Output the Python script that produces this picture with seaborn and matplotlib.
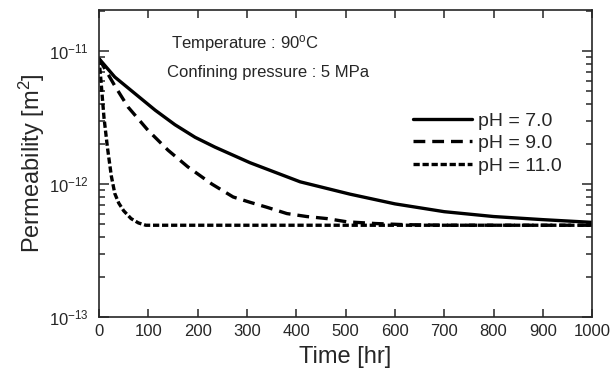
import matplotlib
matplotlib.use("Agg")
import matplotlib.pyplot as plt
import matplotlib.ticker as mticker
import pandas as pd
import seaborn as sns

## values (time in hr, permeability in m^2)
t_ph7 = [0, 32, 73, 114, 154, 195, 235, 306, 408, 509, 600, 700, 800, 900, 1000]
k_ph7 = [8.8e-12, 6.4e-12, 4.8e-12, 3.6e-12, 2.8e-12, 2.25e-12, 1.9e-12, 1.45e-12,
         1.04e-12, 8.4e-13, 7.1e-13, 6.2e-13, 5.7e-13, 5.4e-13, 5.15e-13]

t_ph9 = [0, 32, 59, 99, 140, 180, 229, 272, 306, 340, 381, 421, 462, 503, 560, 620,
         700, 800, 900, 1000]
k_ph9 = [8.8e-12, 5.5e-12, 3.8e-12, 2.55e-12, 1.8e-12, 1.35e-12, 1.0e-12, 8.0e-13,
         7.3e-13, 6.7e-13, 6.0e-13, 5.7e-13, 5.5e-13, 5.2e-13, 5.05e-13, 4.95e-13,
         4.9e-13, 4.9e-13, 4.9e-13, 4.9e-13]

t_ph11 = [0, 4, 10, 17, 25, 32, 40, 50, 65, 80, 95, 200, 400, 600, 800, 1000]
k_ph11 = [8.8e-12, 6.0e-12, 3.2e-12, 1.9e-12, 1.15e-12, 8.5e-13, 7.2e-13, 6.3e-13,
          5.5e-13, 5.1e-13, 4.9e-13, 4.9e-13, 4.9e-13, 4.9e-13, 4.9e-13, 4.9e-13]

labels = ["pH = 7.0", "pH = 9.0", "pH = 11.0"]

df = pd.concat([
    pd.DataFrame({"time": t_ph7, "k": k_ph7, "case": labels[0]}),
    pd.DataFrame({"time": t_ph9, "k": k_ph9, "case": labels[1]}),
    pd.DataFrame({"time": t_ph11, "k": k_ph11, "case": labels[2]}),
])

sns.set_style("ticks")
plt.rcParams["font.family"] = ["Liberation Sans", "DejaVu Sans"]
plt.rcParams["mathtext.fontset"] = "custom"
plt.rcParams["mathtext.rm"] = "Liberation Sans"
plt.rcParams["mathtext.it"] = "Liberation Sans:italic"
plt.rcParams["lines.scale_dashes"] = False

fig, ax = plt.subplots(figsize=(6.13, 3.80), dpi=100)
fig.subplots_adjust(left=0.1615, right=0.966, bottom=0.166, top=0.974)

## line styles: solid, long dash, short dash
styles = {labels[0]: "-", labels[1]: (0, (8.5, 5)), labels[2]: (0, (4.5, 2))}
for lab in labels:
    sub = df[df["case"] == lab]
    sns.lineplot(data=sub, x="time", y="k", ax=ax, color="black", lw=2.4,
                 linestyle=styles[lab], label=lab, estimator=None)

ax.set_yscale("log")
ax.set_xlim(0, 1000)
ax.set_ylim(1e-13, 2.05e-11)
ax.set_xticks(range(0, 1001, 100))
ax.yaxis.set_major_locator(mticker.FixedLocator([1e-13, 1e-12, 1e-11]))
ax.yaxis.set_minor_locator(mticker.LogLocator(base=10, subs=range(2, 10), numticks=10))
ax.yaxis.set_minor_formatter(mticker.NullFormatter())

ax.tick_params(which="both", direction="in", top=True, right=True, labelsize=12, width=1.1)
ax.tick_params(axis="x", which="major", length=6, pad=5)
ax.tick_params(axis="y", which="major", length=7, pad=7)
ax.tick_params(axis="y", which="minor", length=4.2)
for s in ax.spines.values():
    s.set_linewidth(1.2)

ax.set_xlabel("Time [hr]", fontsize=17, labelpad=5)
ax.set_ylabel("Permeability [m$^2$]", fontsize=17, labelpad=2)

ax.text(0.145, 0.89, "Temperature : 90$^{\\rm o}$C", transform=ax.transAxes,
        fontsize=12, va="center", ha="left")
ax.text(0.138, 0.795, "Confining pressure : 5 MPa", transform=ax.transAxes,
        fontsize=12, va="center", ha="left")

ax.legend(loc="center right", bbox_to_anchor=(0.965, 0.565), frameon=False,
          fontsize=14, handlelength=3.0, handletextpad=0.3, labelspacing=0.25,
          borderpad=0.2)

fig.savefig("out.png", dpi=100)
